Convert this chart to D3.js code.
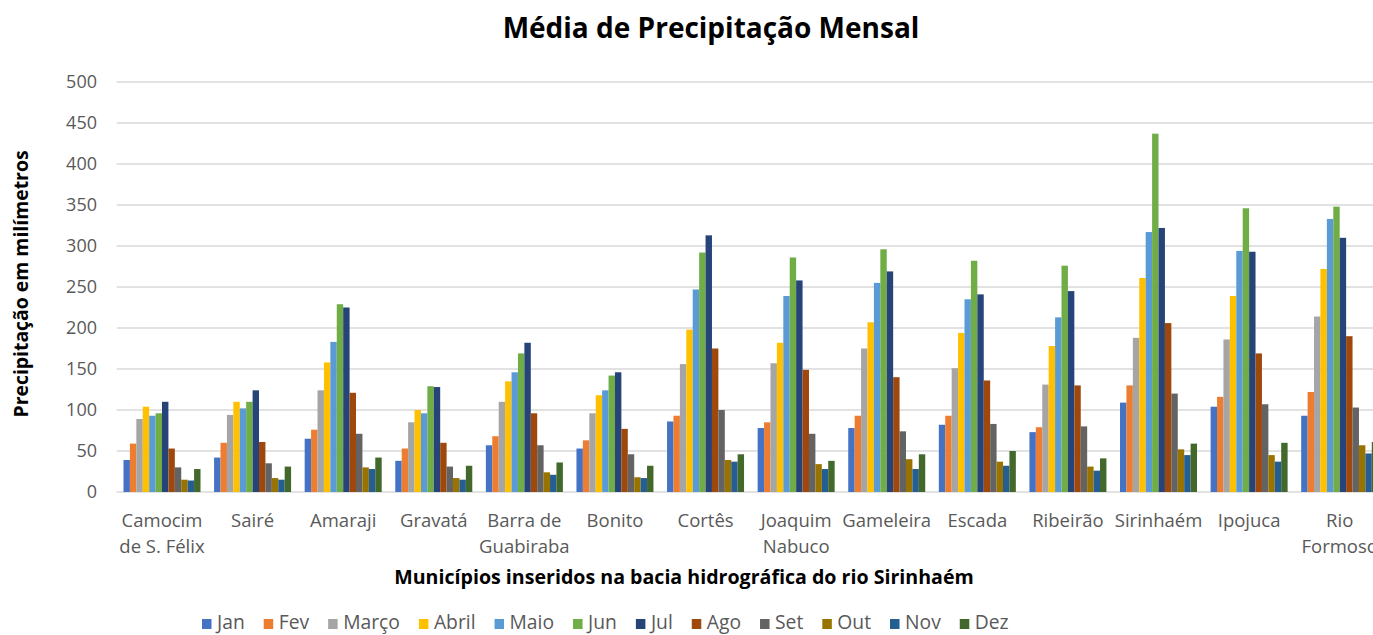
<!DOCTYPE html>
<html>
<head>
<meta charset="utf-8">
<script src="https://cdn.jsdelivr.net/npm/d3@7"></script>
<style>
  html, body { margin: 0; padding: 0; background: #fff; }
  svg { display: block; font-family: "Open Sans", "Noto Sans", sans-serif; }
</style>
</head>
<body>
<svg id="chart" width="1373" height="635"></svg>
<script>
// Municipalities of the Sirinhaém river basin (label lines as printed under each group)
const municipios = ["Camocim de S. Félix", "Sairé", "Amaraji", "Gravatá", "Barra de Guabiraba",
  "Bonito", "Cortês", "Joaquim Nabuco", "Gameleira", "Escada", "Ribeirão", "Sirinhaém",
  "Ipojuca", "Rio Formoso"];
const rotulos = [["Camocim", "de S. Félix"], ["Sairé"], ["Amaraji"], ["Gravatá"], ["Barra de", "Guabiraba"],
  ["Bonito"], ["Cortês"], ["Joaquim", "Nabuco"], ["Gameleira"], ["Escada"], ["Ribeirão"], ["Sirinhaém"],
  ["Ipojuca"], ["Rio", "Formoso"]];

const meses = ["Jan", "Fev", "Março", "Abril", "Maio", "Jun", "Jul", "Ago", "Set", "Out", "Nov", "Dez"];
const cores = ["#4472C4", "#ED7D31", "#A5A5A5", "#FFC000", "#5B9BD5", "#70AD47",
  "#264478", "#9E480E", "#636363", "#997300", "#255E91", "#43682B"];

// Mean monthly precipitation (mm), one array per month, in municipality order
const jan   = [39, 42, 65, 38, 57, 53, 86, 78, 78, 82, 73, 109, 104, 93];
const fev   = [59, 60, 76, 53, 68, 63, 93, 85, 93, 93, 79, 130, 116, 122];
const marco = [89, 94, 124, 85, 110, 96, 156, 157, 175, 151, 131, 188, 186, 214];
const abril = [104, 110, 158, 100, 135, 118, 198, 182, 207, 194, 178, 261, 239, 272];
const maio  = [93, 102, 183, 96, 146, 124, 247, 239, 255, 235, 213, 317, 294, 333];
const jun   = [96, 110, 229, 129, 169, 142, 292, 286, 296, 282, 276, 437, 346, 348];
const jul   = [110, 124, 225, 128, 182, 146, 313, 258, 269, 241, 245, 322, 293, 310];
const ago   = [53, 61, 121, 60, 96, 77, 175, 149, 140, 136, 130, 206, 169, 190];
const set   = [30, 35, 71, 31, 57, 46, 100, 71, 74, 83, 80, 120, 107, 103];
const out   = [15, 17, 30, 17, 24, 18, 39, 34, 40, 37, 31, 52, 45, 57];
const nov   = [14, 15, 28, 15, 21, 17, 37, 28, 28, 32, 26, 45, 37, 47];
const dez   = [28, 31, 42, 32, 36, 32, 46, 38, 46, 50, 41, 59, 60, 61];
const series = [jan, fev, marco, abril, maio, jun, jul, ago, set, out, nov, dez];

const yTicks = [0, 50, 100, 150, 200, 250, 300, 350, 400, 450, 500];

const svg = d3.select("#chart");
const plot = { left: 116.7, right: 1385, top: 82, bottom: 492 };

const x0 = d3.scaleBand().domain(municipios).range([plot.left, plot.right])
  .paddingInner(0.15).paddingOuter(0.075);
const x1 = d3.scaleBand().domain(meses).range([0, x0.bandwidth()]);
const y = d3.scaleLinear().domain([0, 500]).range([plot.bottom, plot.top]);

// Gridlines
svg.append("g").selectAll("line").data(yTicks).join("line")
  .attr("x1", plot.left).attr("x2", plot.right)
  .attr("y1", d => y(d)).attr("y2", d => y(d))
  .attr("stroke", "#D9D9D9").attr("stroke-width", 1.3);

// Y tick labels
svg.append("g").selectAll("text").data(yTicks).join("text")
  .attr("x", 97).attr("y", d => y(d)).attr("dy", "0.35em")
  .attr("text-anchor", "end").attr("font-size", 18).attr("fill", "#595959")
  .text(d => d);

// Bars
const groups = svg.append("g").selectAll("g").data(municipios).join("g")
  .attr("transform", d => `translate(${x0(d)},0)`);
groups.selectAll("rect")
  .data((m, i) => meses.map((mes, k) => ({ mes, v: series[k][i], k })))
  .join("rect")
  .attr("x", d => x1(d.mes))
  .attr("width", x1.bandwidth())
  .attr("y", d => y(d.v))
  .attr("height", d => y(0) - y(d.v))
  .attr("fill", d => cores[d.k]);

// Category labels
const labels = svg.append("g").selectAll("text").data(municipios).join("text")
  .attr("text-anchor", "middle").attr("font-size", 18.5).attr("fill", "#595959")
  .attr("transform", d => `translate(${x0(d) + x0.bandwidth() / 2},527)`);
labels.selectAll("tspan").data((d, i) => rotulos[i]).join("tspan")
  .attr("x", 0).attr("dy", (d, j) => j === 0 ? 0 : 26).text(d => d);

// Title
svg.append("text").attr("x", 711).attr("y", 38).attr("text-anchor", "middle")
  .attr("font-size", 28).attr("font-weight", "bold").attr("fill", "#000")
  .text("Média de Precipitação Mensal");

// Axis titles
svg.append("text").attr("x", 684).attr("y", 584).attr("text-anchor", "middle")
  .attr("font-size", 19.6).attr("font-weight", "bold").attr("fill", "#000")
  .text("Municípios inseridos na bacia hidrográfica do rio Sirinhaém");
svg.append("text").attr("transform", "translate(28,284) rotate(-90)").attr("text-anchor", "middle")
  .attr("font-size", 19.4).attr("font-weight", "bold").attr("fill", "#000")
  .text("Precipitação em milímetros");

// Legend
const legend = svg.append("g").attr("transform", "translate(202,623)");
let lx = 0;
meses.forEach((m, k) => {
  const item = legend.append("g").attr("transform", `translate(${lx},0)`);
  item.append("rect").attr("x", 0).attr("y", -4).attr("width", 9.5).attr("height", 10).attr("fill", cores[k]);
  const t = item.append("text").attr("x", 15).attr("y", 6).attr("font-size", 19.3)
    .attr("fill", "#595959").text(m);
  lx += 15 + t.node().getComputedTextLength() + 19;
});
</script>
</body>
</html>
